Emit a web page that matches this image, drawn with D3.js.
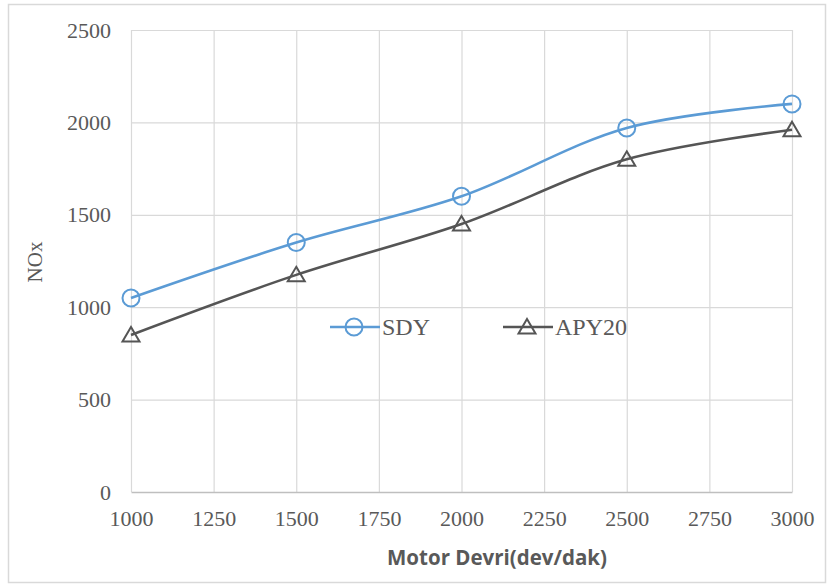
<!DOCTYPE html>
<html>
<head>
<meta charset="utf-8">
<script src="https://cdn.jsdelivr.net/npm/d3@7"></script>
<style>
  body { margin: 0; background: #fff; }
  svg { display: block; }
</style>
</head>
<body>
<svg id="chart"></svg>
<script>
// data
const rpm = [1000, 1500, 2000, 2500, 3000];
const sdy = [1050, 1350, 1600, 1970, 2100];
const apy20 = [850, 1175, 1450, 1800, 1960];
const xTicks = [1000, 1250, 1500, 1750, 2000, 2250, 2500, 2750, 3000];
const yTicks = [0, 500, 1000, 1500, 2000, 2500];
const seriesNames = ["SDY", "APY20"];

const W = 832, H = 588;
const textCol = "#595959";

let svg = d3.select("#chart")
    .attr("width", W)
    .attr("height", H)

// outer frame
svg.append("rect")
    .attr("x", 8.5).attr("y", 4.5)
    .attr("width", 817).attr("height", 578)
    .attr("fill", "#fff")
    .attr("stroke", "#d9d9d9")
    .attr("stroke-width", 1.5)

let x = d3.scaleLinear().domain([1000, 3000]).range([131, 792]);
let y = d3.scaleLinear().domain([0, 2500]).range([492, 30]);

// vertical grid
svg.append("g")
    .attr("transform", "translate(0," + 492 + ")")
    .call(d3.axisBottom(x).tickValues(xTicks).tickSize(-(492 - 30)).tickFormat(""))
    .call(g => g.select(".domain").remove())
    .call(g => g.selectAll("line").attr("stroke", "#d9d9d9").attr("stroke-width", 1.2))

// horizontal grid
svg.append("g")
    .attr("transform", "translate(131,0)")
    .call(d3.axisLeft(y).tickValues(yTicks.slice(1)).tickSize(-(792 - 131)).tickFormat(""))
    .call(g => g.select(".domain").remove())
    .call(g => g.selectAll("line").attr("stroke", "#d9d9d9").attr("stroke-width", 1.2))

// x axis
svg.append("g")
    .attr("transform", "translate(0," + 492 + ")")
    .call(d3.axisBottom(x).tickValues(xTicks).tickSize(0).tickPadding(18).tickFormat(d3.format("d")))
    .call(g => g.select(".domain").attr("stroke", "#bfbfbf").attr("stroke-width", 1.5))
    .call(g => g.selectAll("text")
        .attr("fill", textCol)
        .style("font-family", "'Liberation Serif', serif")
        .style("font-size", "22px")
        .attr("dy", "0.71em"))

// y axis
svg.append("g")
    .attr("transform", "translate(131,0)")
    .call(d3.axisLeft(y).tickValues(yTicks).tickSize(0).tickPadding(20).tickFormat(d3.format("d")))
    .call(g => g.select(".domain").remove())
    .call(g => g.selectAll("text")
        .attr("fill", textCol)
        .style("font-family", "'Liberation Serif', serif")
        .style("font-size", "22px"))

// axis titles
svg.append("text")
    .attr("x", 497).attr("y", 565)
    .attr("text-anchor", "middle")
    .attr("fill", textCol)
    .style("font-family", "'Open Sans', sans-serif")
    .style("font-weight", "bold")
    .style("font-size", "20.5px")
    .text("Motor Devri(dev/dak)")

svg.append("text")
    .attr("transform", "translate(42,262) rotate(-90)")
    .attr("text-anchor", "middle")
    .attr("fill", textCol)
    .style("font-family", "'Liberation Serif', serif")
    .style("font-size", "21px")
    .text("NOx")

const series = [
    {name: seriesNames[0], values: sdy, color: "#5b9bd5", marker: "circle"},
    {name: seriesNames[1], values: apy20, color: "#555555", marker: "triangle"}
];

let line = d3.line()
    .x(d => x(d[0]))
    .y(d => y(d[1]))
    .curve(d3.curveCatmullRom.alpha(0.5))

function drawMarker(g, type, cx, cy, color) {
    if (type === "circle") {
        g.append("circle")
            .attr("cx", cx).attr("cy", cy).attr("r", 8.5)
            .attr("fill", "none")
            .attr("stroke", color)
            .attr("stroke-width", 2)
    } else {
        g.append("path")
            .attr("transform", "translate(" + cx + "," + cy + ")")
            .attr("d", "M0,-8 L8.5,6.5 L-8.5,6.5 Z")
            .attr("fill", "none")
            .attr("stroke", color)
            .attr("stroke-width", 2)
    }
}

series.forEach(s => {
    let pts = rpm.map((r, i) => [r, s.values[i]]);
    svg.append("path")
        .datum(pts)
        .attr("fill", "none")
        .attr("stroke", s.color)
        .attr("stroke-width", 2.6)
        .attr("d", line)
    let mg = svg.append("g")
    pts.forEach(p => drawMarker(mg, s.marker, x(p[0]), y(p[1]), s.color))
})

// legend
const legendX = [330, 503];
series.forEach((s, i) => {
    let lg = svg.append("g").attr("transform", "translate(" + legendX[i] + ",327)")
    lg.append("line")
        .attr("x1", 0).attr("x2", 50)
        .attr("stroke", s.color)
        .attr("stroke-width", 2.6)
    drawMarker(lg, s.marker, 24, 0, s.color)
    lg.append("text")
        .attr("x", 52).attr("y", 8)
        .attr("fill", textCol)
        .style("font-family", "'Liberation Serif', serif")
        .style("font-size", "24px")
        .text(s.name)
})
</script>
</body>
</html>
